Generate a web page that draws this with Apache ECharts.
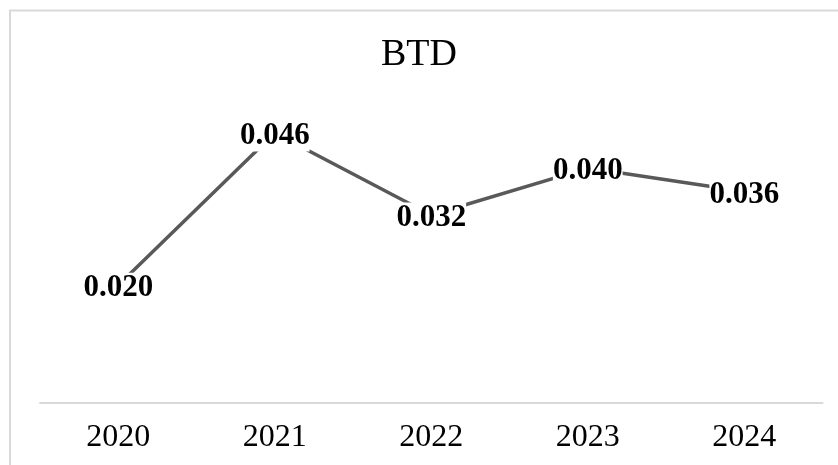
<!DOCTYPE html>
<html>
<head>
<meta charset="utf-8">
<script src="https://cdn.jsdelivr.net/npm/echarts@6/dist/echarts.min.js"></script>
<style>
html,body{margin:0;padding:0;background:#fff;}
#main{width:838px;height:465px;}
</style>
</head>
<body>
<div id="main"></div>
<script>
var categories = ['2020', '2021', '2022', '2023', '2024'];
var values = [0.020, 0.046, 0.032, 0.040, 0.036];
var titleText = 'BTD';

var chart = echarts.init(document.getElementById('main'), null, {renderer: 'canvas'});
var serif = '"Liberation Serif", "Times New Roman", serif';
chart.setOption({
  animation: false,
  backgroundColor: '#fff',
  title: {
    text: titleText,
    left: 'center',
    top: 31,
    textStyle: {fontFamily: serif, fontSize: 38, fontWeight: 'normal', color: '#000'}
  },
  graphic: [{
    type: 'rect',
    shape: {x: 10, y: 10.5, width: 900, height: 500},
    style: {fill: 'none', stroke: '#d9d9d9', lineWidth: 2},
    z: -1
  }],
  grid: {left: 40, right: 15.5, top: 109.5, bottom: 62.5},
  xAxis: {
    type: 'category',
    data: categories,
    boundaryGap: true,
    axisLine: {show: true, lineStyle: {color: '#d9d9d9', width: 2}},
    axisTick: {show: false},
    axisLabel: {fontFamily: serif, fontSize: 32, color: '#000', margin: 19}
  },
  yAxis: {
    type: 'value',
    min: 0,
    max: 0.05,
    show: false,
    splitLine: {show: false}
  },
  series: [{
    type: 'line',
    data: values,
    symbol: 'circle',
    symbolSize: 0,
    showSymbol: true,
    lineStyle: {color: '#595959', width: 3.5},
    itemStyle: {color: '#595959'},
    label: {
      show: true,
      position: 'inside',
      offset: [0, 3],
      formatter: function (p) { return p.value.toFixed(3); },
      fontFamily: serif,
      fontSize: 31,
      fontWeight: 'bold',
      color: '#000',
      backgroundColor: '#fff',
      padding: [0, 0]
    }
  }]
});
</script>
</body>
</html>
